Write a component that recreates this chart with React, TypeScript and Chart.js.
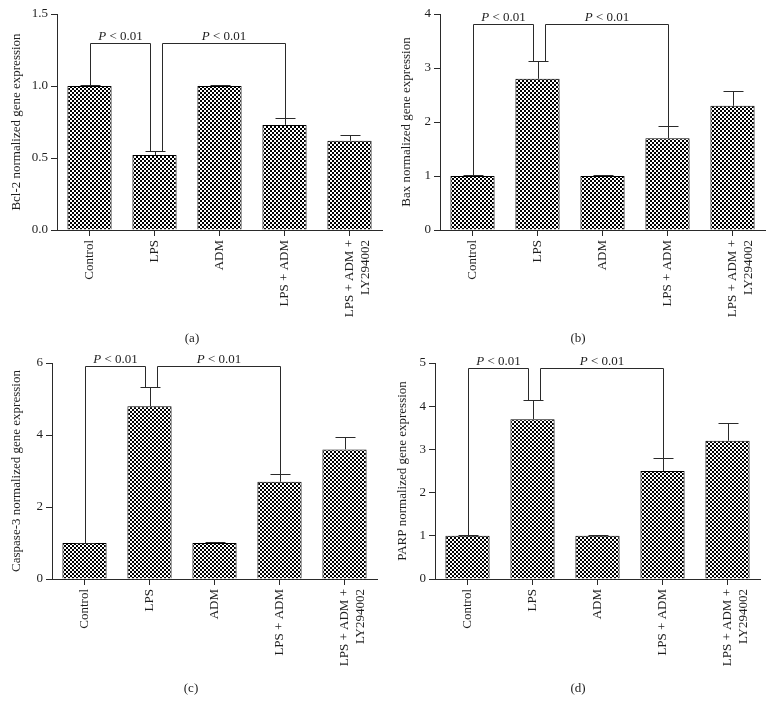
import React, { useEffect, useRef } from 'react';
import { Chart, registerables } from 'chart.js';

Chart.register(...registerables);

const SERIF = '"Liberation Serif", "Times New Roman", Times, serif';
const INK = '#1e1e1e';

const categories: (string | string[])[] = ['Control', 'LPS', 'ADM', 'LPS + ADM', ['LPS + ADM +', 'LY294002']];

const bcl2Values = [1.0, 0.52, 1.0, 0.73, 0.62];
const bcl2Errors = [0.006, 0.03, 0.006, 0.05, 0.04];
const bcl2Ticks = [0, 0.5, 1.0, 1.5];

const baxValues = [1.0, 2.8, 1.0, 1.7, 2.3];
const baxErrors = [0.01, 0.33, 0.015, 0.22, 0.27];
const baxTicks = [0, 1, 2, 3, 4];

const casp3Values = [1.0, 4.8, 1.0, 2.7, 3.6];
const casp3Errors = [0.01, 0.53, 0.02, 0.22, 0.34];
const casp3Ticks = [0, 2, 4, 6];

const parpValues = [1.0, 3.7, 1.0, 2.5, 3.2];
const parpErrors = [0.01, 0.45, 0.02, 0.31, 0.4];
const parpTicks = [0, 1, 2, 3, 4, 5];

// significance brackets: [from category, to category]
const bracketPairs = [
  [0, 1],
  [1, 3],
];
const bracketLabel = ['P', ' < 0.01'];
const bcl2Bracket = 1.3;
const baxBracket = 3.81;
const casp3Bracket = 5.92;
const parpBracket = 4.88;

function makePattern(ctx: CanvasRenderingContext2D) {
  const c = document.createElement('canvas');
  c.width = 4;
  c.height = 4;
  const g = c.getContext('2d')!;
  g.fillStyle = '#ffffff';
  g.fillRect(0, 0, 4, 4);
  g.fillStyle = '#000000';
  g.fillRect(0, 0, 2, 2);
  g.fillRect(2, 2, 2, 2);
  return ctx.createPattern(c, 'repeat');
}

const annotPlugin = {
  id: 'annot',
  afterDatasetsDraw(chart: any, _args: any, opts: any) {
    const { ctx } = chart;
    const xs = chart.scales.x;
    const ys = chart.scales.y;
    const vals: number[] = opts.values;
    const errs: number[] = opts.errors;
    ctx.save();
    ctx.strokeStyle = '#2a2a2a';
    ctx.lineWidth = 1;
    const tops = vals.map((v, i) => v + errs[i]);
    // error bars (upper only)
    vals.forEach((v, i) => {
      const px = Math.round(xs.getPixelForValue(i)) + 0.5;
      const y0 = ys.getPixelForValue(v);
      const y1 = Math.round(ys.getPixelForValue(tops[i])) + 0.5;
      ctx.beginPath();
      ctx.moveTo(px, y0);
      ctx.lineTo(px, y1);
      ctx.moveTo(px - 10, y1);
      ctx.lineTo(px + 10, y1);
      ctx.stroke();
    });
    // brackets
    const hy = Math.round(ys.getPixelForValue(opts.bracket)) + 0.5;
    bracketPairs.forEach(([a, b], k) => {
      const xa = Math.round(xs.getPixelForValue(a)) + 0.5 + (k > 0 ? 7 : 0);
      const xb = Math.round(xs.getPixelForValue(b)) + 0.5 + (k === 0 ? -5 : 0);
      const ya = Math.round(ys.getPixelForValue(tops[a])) + 0.5;
      const yb = Math.round(ys.getPixelForValue(tops[b])) + 0.5;
      ctx.beginPath();
      ctx.moveTo(xa, ya);
      ctx.lineTo(xa, hy);
      ctx.lineTo(xb, hy);
      ctx.lineTo(xb, yb);
      ctx.stroke();
      // label
      const italic = `italic 13px ${SERIF}`;
      const normal = `13px ${SERIF}`;
      ctx.font = italic;
      const w1 = ctx.measureText(bracketLabel[0]).width;
      ctx.font = normal;
      const w2 = ctx.measureText(bracketLabel[1]).width;
      const cx = (xa + xb) / 2;
      const sx = cx - (w1 + w2) / 2;
      ctx.fillStyle = INK;
      ctx.textBaseline = 'alphabetic';
      ctx.textAlign = 'left';
      ctx.font = italic;
      ctx.fillText(bracketLabel[0], sx, hy - 4);
      ctx.font = normal;
      ctx.fillText(bracketLabel[1], sx + w1, hy - 4);
    });
    ctx.restore();
  },
};

type PanelProps = {
  values: number[];
  errors: number[];
  ticks: number[];
  decimals: number;
  title: string;
  bracket: number;
  left: number;
  top: number;
  width: number;
  height: number;
  areaLeft: number;
  areaRight: number;
  areaTop: number;
  areaBottom: number;
  titleX: number;
};

function Panel(p: PanelProps) {
  const ref = useRef<HTMLCanvasElement | null>(null);
  useEffect(() => {
    const canvas = ref.current!;
    const ctx = canvas.getContext('2d')!;
    const pattern = makePattern(ctx);
    const gridOpts = {
      display: true,
      drawOnChartArea: false,
      drawTicks: true,
      tickLength: 6,
      color: '#2a2a2a',
      lineWidth: 1,
      offset: false,
    };
    const chart = new Chart(canvas, {
      type: 'bar',
      data: {
        labels: categories,
        datasets: [
          {
            data: p.values,
            backgroundColor: pattern as any,
            borderColor: '#000000',
            borderWidth: 1,
            barPercentage: 0.68,
            categoryPercentage: 1,
          },
        ],
      },
      plugins: [annotPlugin],
      options: {
        responsive: false,
        animation: false,
        devicePixelRatio: 1,
        layout: {
          padding: {
            left: 0,
            top: p.areaTop - p.top,
            right: p.left + p.width - p.areaRight,
            bottom: 0,
          },
        },
        plugins: {
          legend: { display: false },
          tooltip: { enabled: false },
          annot: { values: p.values, errors: p.errors, bracket: p.bracket },
        } as any,
        scales: {
          x: {
            type: 'category',
            offset: true,
            grid: gridOpts,
            border: { display: true, color: '#2a2a2a', width: 1 },
            ticks: {
              autoSkip: false,
              minRotation: 90,
              maxRotation: 90,
              padding: 4,
              color: INK,
              font: { family: SERIF, size: 13 },
            },
            afterFit: (s: any) => {
              s.height = p.top + p.height - p.areaBottom;
            },
          },
          y: {
            min: 0,
            max: p.ticks[p.ticks.length - 1],
            afterBuildTicks: (s: any) => {
              s.ticks = p.ticks.map((v) => ({ value: v }));
            },
            grid: gridOpts,
            border: { display: true, color: '#2a2a2a', width: 1 },
            ticks: {
              padding: 3,
              color: INK,
              font: { family: SERIF, size: 13 },
              callback: (v: any) => Number(v).toFixed(p.decimals),
            },
            title: {
              display: true,
              text: p.title,
              color: INK,
              font: { family: SERIF, size: 13 },
              padding: { top: p.titleX - p.left - 7.8, bottom: 0 },
            },
            afterFit: (s: any) => {
              s.width = p.areaLeft - p.left;
            },
          },
        },
      } as any,
    });
    return () => chart.destroy();
  }, []);
  return (
    <canvas
      ref={ref}
      width={p.width}
      height={p.height}
      style={{ position: 'absolute', left: p.left, top: p.top, width: p.width, height: p.height, display: 'block' }}
    />
  );
}

function Caption({ text, x, y }: { text: string; x: number; y: number }) {
  return (
    <div
      style={{
        position: 'absolute',
        left: x - 30,
        top: y - 9,
        width: 60,
        textAlign: 'center',
        fontFamily: SERIF,
        fontSize: 13,
        lineHeight: '18px',
        color: INK,
      }}
    >
      {text}
    </div>
  );
}

export default function App() {
  return (
    <div style={{ position: 'absolute', left: 0, top: 0, width: 772, height: 710, background: '#ffffff', overflow: 'hidden' }}>
      <Panel
        values={bcl2Values}
        errors={bcl2Errors}
        ticks={bcl2Ticks}
        decimals={1}
        title="Bcl-2 normalized gene expression"
        bracket={bcl2Bracket}
        left={0}
        top={0}
        width={390}
        height={350}
        areaLeft={57}
        areaRight={382}
        areaTop={14}
        areaBottom={230}
        titleX={17}
      />
      <Panel
        values={baxValues}
        errors={baxErrors}
        ticks={baxTicks}
        decimals={0}
        title="Bax normalized gene expression"
        bracket={baxBracket}
        left={390}
        top={0}
        width={382}
        height={350}
        areaLeft={440}
        areaRight={765}
        areaTop={14}
        areaBottom={230}
        titleX={407}
      />
      <Panel
        values={casp3Values}
        errors={casp3Errors}
        ticks={casp3Ticks}
        decimals={0}
        title="Caspase-3 normalized gene expression"
        bracket={casp3Bracket}
        left={0}
        top={345}
        width={390}
        height={360}
        areaLeft={52}
        areaRight={377}
        areaTop={363}
        areaBottom={579}
        titleX={17}
      />
      <Panel
        values={parpValues}
        errors={parpErrors}
        ticks={parpTicks}
        decimals={0}
        title="PARP normalized gene expression"
        bracket={parpBracket}
        left={390}
        top={345}
        width={382}
        height={360}
        areaLeft={435}
        areaRight={760}
        areaTop={363}
        areaBottom={579}
        titleX={403}
      />
      <Caption text="(a)" x={192} y={338} />
      <Caption text="(b)" x={578} y={338} />
      <Caption text="(c)" x={191} y={688} />
      <Caption text="(d)" x={578} y={688} />
    </div>
  );
}
